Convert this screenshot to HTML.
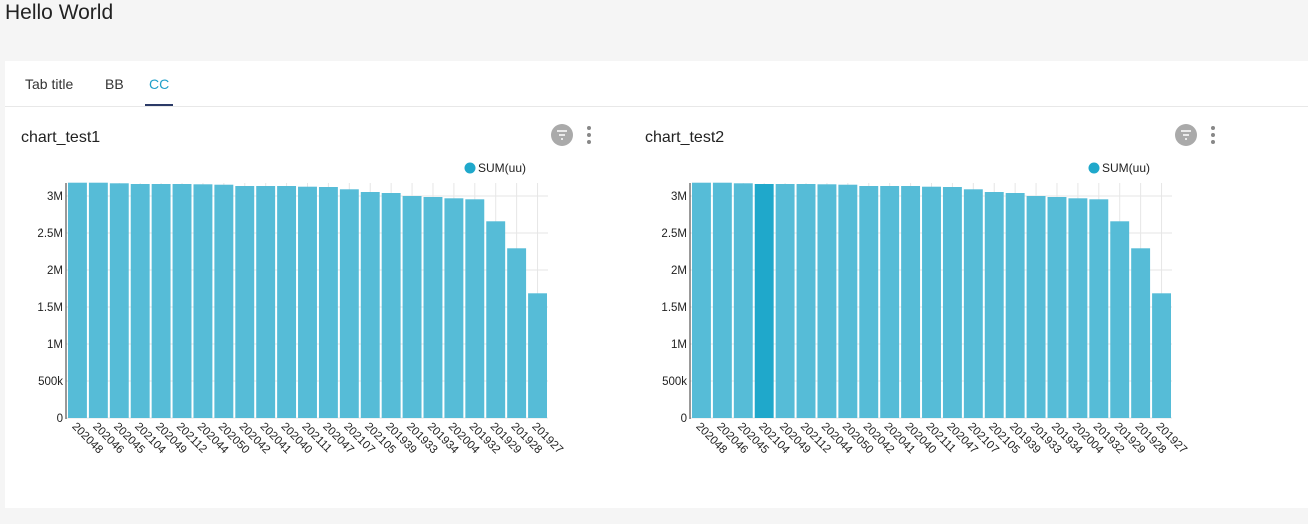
<!DOCTYPE html>
<html><head><meta charset="utf-8"><style>
body{margin:0;width:1308px;height:524px;background:#f5f5f5;font-family:"Liberation Sans",sans-serif;overflow:hidden;position:relative}
.h{position:absolute;left:5px;top:1px;font-size:21px;color:#222}
.panel{position:absolute;left:5px;top:61px;width:1303px;height:447px;background:#fff}
.tab{position:absolute;top:15px;font-size:14px;color:#333}
.sep{position:absolute;left:0;right:0;top:45px;height:1px;background:#e8e8e8}
.ul{position:absolute;left:140px;width:28px;top:43px;height:2px;background:#2b3a67}
svg{position:absolute;left:0;top:0}
</style></head><body>
<div class="h">Hello World</div>
<div class="panel">
<div class="tab" style="left:20px">Tab title</div>
<div class="tab" style="left:100px">BB</div>
<div class="tab" style="left:144px;color:#1f9fc9">CC</div>
<div class="ul"></div>
<div class="sep"></div>
</div>
<svg id="s" width="1308" height="524" font-family="Liberation Sans, sans-serif"></svg>
<script>
var labels=["202048","202046","202045","202104","202049","202112","202044","202050","202042","202041","202040","202111","202047","202107","202105","201939","201933","201934","202004","201932","201929","201928","201927"];
var tops=[182.7,182.7,183.3,184,184,184,184.3,184.7,186,186,186,186.7,187,189.3,192,193,196,197,198.3,199.3,221.3,248.3,293.3];
var s="";
function chart(ox,title,hi){
 var ax=ox, x0=ox+1, x1=ox+482, n=23, step=(x1-x0)/n;
 s+='<text x="'+(ox-45)+'" y="142" font-size="16" fill="#222">'+title+'</text>';
 s+='<circle cx="'+(ox+496)+'" cy="135" r="11" fill="#aaa"/>';
 s+='<path d="M'+(ox+491)+' 131h10M'+(ox+493)+' 135h6M'+(ox+495)+' 139h2" stroke="#fff" stroke-width="1.6"/>';
 for(var k=0;k<3;k++)s+='<circle cx="'+(ox+523)+'" cy="'+(128+k*7)+'" r="2" fill="#888"/>';
 s+='<circle cx="'+(ox+404)+'" cy="168" r="5.5" fill="#1fa8cb"/>';
 s+='<text x="'+(ox+412)+'" y="172" font-size="12" fill="#222">SUM(uu)</text>';
 for(var i=0;i<=6;i++){var y=418-i*37;
  s+='<line x1="'+ax+'" x2="'+x1+'" y1="'+y+'" y2="'+y+'" stroke="#e6e6e6"/>';
  var l=["0","500k","1M","1.5M","2M","2.5M","3M"][i];
  s+='<text x="'+(ax-3)+'" y="'+(y+4)+'" font-size="11.5" text-anchor="end" fill="#222">'+l+'</text>';}
 for(var i=0;i<n;i++){var c=x0+step*(i+0.5);
  s+='<line x1="'+c+'" x2="'+c+'" y1="183" y2="418" stroke="#e6e6e6"/>';}
 for(var i=0;i<n;i++){var bx=x0+step*i+1,c=x0+step*(i+0.5);
  s+='<rect x="'+bx+'" y="'+tops[i]+'" width="'+(step-2)+'" height="'+(418-tops[i])+'" fill="'+(i==hi?'#1fa8cb':'#56bcd7')+'"/>';
  s+='<text transform="translate('+(c-6)+',427) rotate(45)" font-size="11.5" fill="#222">'+labels[i]+'</text>';}
 s+='<line x1="'+ax+'" x2="'+ax+'" y1="183" y2="419" stroke="#333"/>';
}
chart(66,"chart_test1",-1);
chart(690,"chart_test2",3);
document.getElementById("s").innerHTML=s;
</script>
</body></html>
